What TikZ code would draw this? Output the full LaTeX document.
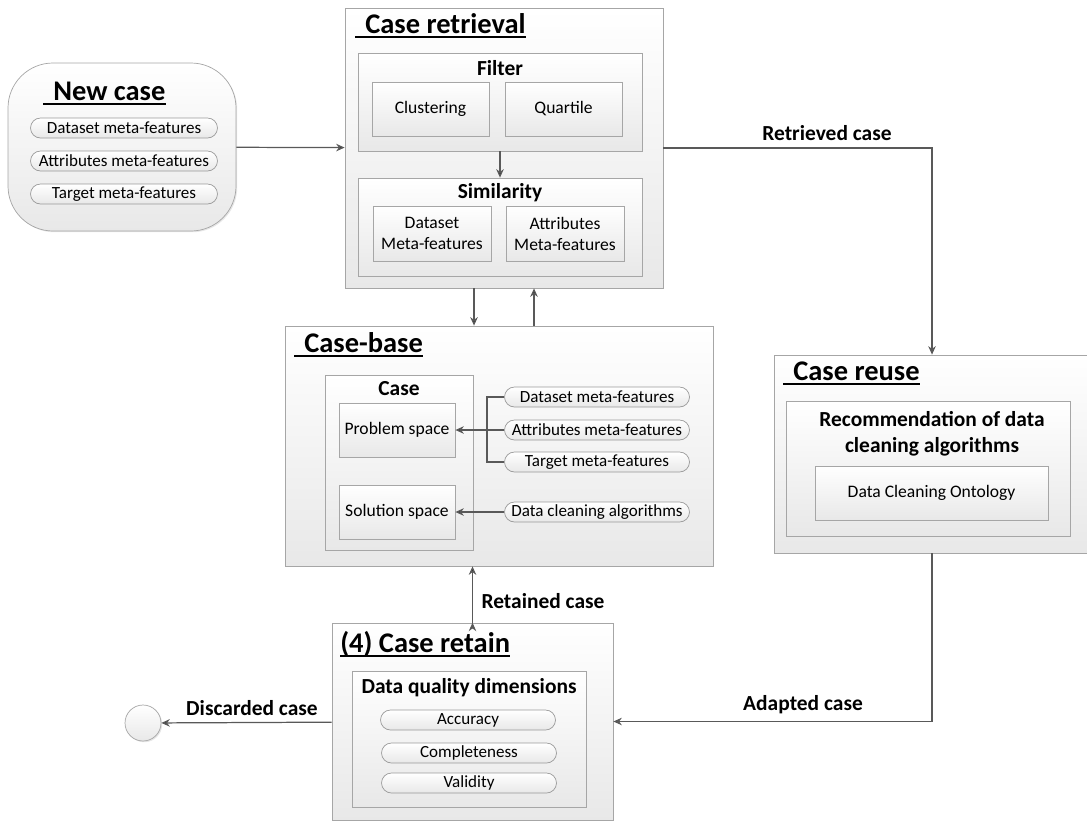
\documentclass[tikz,border=0pt]{standalone}
\usepackage{fontspec}
\setmainfont{Carlito}
\usetikzlibrary{arrows.meta,fit,shadows}

\begin{document}
\begin{tikzpicture}[x=0.02cm, y=-0.02cm,
    box/.style={draw=black!35, top color=white, bottom color=black!9, inner sep=0pt,
      drop shadow={opacity=0.2, shadow xshift=0.7pt, shadow yshift=-0.7pt}},
    pill/.style={draw=black!40, rounded corners=0.2cm, top color=white, bottom color=black!9,
      minimum height=0.4cm, inner sep=0pt, font=\fontsize{9.7}{11}\selectfont},
    small/.style={font=\fontsize{10}{12}\selectfont, align=center},
    head/.style={font=\bfseries\fontsize{12.2}{14.6}\selectfont, align=center},
    big/.style={font=\bfseries\fontsize{16.2}{19}\selectfont, anchor=base west,
      inner xsep=0pt, inner ysep=2pt, text depth=0pt,
      append after command={\pgfextra{\draw[line width=1.1pt]
        (\tikzlastnode.south west) -- (\tikzlastnode.south east);}}},
    link/.style={draw=black!65, line width=0.7pt},
    arr/.style={link, -{Stealth[length=1.7mm, width=1.5mm]}}]
  \useasboundingbox (0,0) rectangle (1087,822);

  % new case
  \node[box, rounded corners=0.9cm, fit={(8,63) (236,231)}] (newcase) {};
  \node[big] (newtitle) at (43,100) {\hspace{0.35em}New case};
  \node[pill, minimum width=3.74cm] (ncds) at (124,128) {Dataset meta-features};
  \node[pill, minimum width=3.74cm] (ncat) at (124,161) {Attributes meta-features};
  \node[pill, minimum width=3.74cm] (nctg) at (124,194) {Target meta-features};

  % case retrieval
  \node[box, fit={(345,8) (663,288)}] (retrieval) {};
  \node[big] (rettitle) at (355,33) {\hspace{0.35em}Case retrieval};
  \node[box, fit={(358,53) (642,151)}] (filter) {};
  \node[head] (filtertxt) at (500,68) {Filter};
  \node[box, small, fit={(372,82) (489,136)}] (clust) {};
  \node[small] (clusttxt) at (clust) {Clustering};
  \node[box, small, fit={(505,82) (622,136)}] (quart) {};
  \node[small] (quarttxt) at (quart) {Quartile};
  \node[box, fit={(358,178) (642,276)}] (simil) {};
  \node[head] (similtxt) at (500,193) {Similarity};
  \node[box, fit={(373,206) (491,261)}] (dsmf) {};
  \node[small] (dsmftxt) at (dsmf) {Dataset\\Meta-features};
  \node[box, fit={(506,206) (624,261)}] (atmf) {};
  \node[small] (atmftxt) at (atmf) {Attributes\\Meta-features};

  % case-base
  \node[box, fit={(285,326) (713,566)}] (casebase) {};
  \node[big] (cbtitle) at (294,352) {\hspace{0.35em}Case-base};
  \node[box, fit={(325,375) (473,550)}] (case) {};
  \node[head] (casetxt) at (399,389) {Case};
  \node[box, fit={(339,403) (455,457)}] (prob) {};
  \node[small] (probtxt) at (prob) {Problem space};
  \node[box, fit={(339,485) (455,539)}] (sol) {};
  \node[small] (soltxt) at (sol) {Solution space};
  \node[pill, minimum width=3.7cm] (cbds) at (597,397) {Dataset meta-features};
  \node[pill, minimum width=3.7cm] (cbat) at (597,430) {Attributes meta-features};
  \node[pill, minimum width=3.7cm] (cbtg) at (597,462) {Target meta-features};
  \node[pill, minimum width=3.7cm] (cbalg) at (597,512) {Data cleaning algorithms};

  % case reuse
  \node[box, fit={(774,355) (1090,553)}] (reuse) {};
  \node[big] (reusetitle) at (783,380) {\hspace{0.35em}Case reuse};
  \node[box, fit={(786,401) (1070,536)}] (recom) {};
  \node[head] (recomtxt) at (932,434) {Recommendation of data\\cleaning algorithms};
  \node[box, fit={(815,466) (1048,520)}] (onto) {};
  \node[small] (ontotxt) at (onto) {Data Cleaning Ontology};

  % case retain
  \node[box, fit={(332,623) (613,820)}] (retain) {};
  \node[big] (rettntitle) at (340,652) {(4) Case retain};
  \node[box, fit={(352,671) (586,807)}] (dq) {};
  \node[head] (dqtxt) at (469,688) {Data quality dimensions};
  \node[pill, minimum width=3.5cm] (acc) at (468,720) {Accuracy};
  \node[pill, minimum width=3.5cm] (compl) at (469,753) {Completeness};
  \node[pill, minimum width=3.5cm] (valid) at (469,783) {Validity};

  \node[box, circle, minimum size=0.72cm] (discard) at (143,723) {};

  % flow
  \path[arr]
    (newcase) edge (retrieval)
    (filter) edge (simil)
    (cbat) edge (prob)
    (cbalg) edge (sol)
    ([xshift=-0.6cm]retrieval.south) edge ([xshift=-0.6cm]retrieval.south |- casebase.north)
    ([xshift=0.6cm]retrieval.south |- casebase.north) edge ([xshift=0.6cm]retrieval.south)
    (retain.north) edge (retain.north |- casebase.south)
    (retain) edge (discard);
  \draw[arr] (retrieval.east) -| (reuse.north);
  \draw[arr] (reuse.south) |- (retain.east);
  \coordinate (brk) at (487,430);
  \draw[link] (cbds.west) -| (brk) |- (cbtg.west);

  \node[head] (retrieved) at (827,133) {Retrieved case};
  \node[head] (retained) at (543,601) {Retained case};
  \node[head] (adapted) at (803,705) {Adapted case};
  \node[head] (discarded) at (252,708) {Discarded case};
\end{tikzpicture}
\end{document}
